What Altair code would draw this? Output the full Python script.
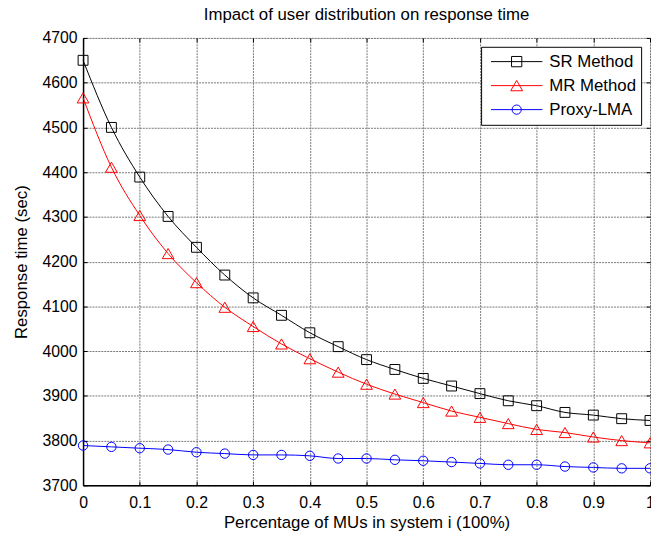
import altair as alt
import pandas as pd

# ---- data ----
x_vals = [0.0, 0.05, 0.1, 0.15, 0.2, 0.25, 0.3, 0.35, 0.4, 0.45, 0.5,
          0.55, 0.6, 0.65, 0.7, 0.75, 0.8, 0.85, 0.9, 0.95, 1.0]
sr_method = [4650, 4500, 4389, 4301, 4232, 4170, 4119, 4080, 4041, 4010, 3981,
             3959, 3939, 3922, 3905, 3889, 3878, 3863, 3857, 3849, 3845]
mr_method = [4566, 4411, 4303, 4218, 4153, 4098, 4055, 4016, 3983, 3953, 3926,
             3904, 3885, 3866, 3852, 3838, 3825, 3818, 3808, 3800, 3795]
proxy_lma = [3789, 3786, 3783, 3780, 3774, 3771, 3768, 3768, 3766, 3760, 3760,
             3757, 3755, 3752, 3749, 3746, 3746, 3742, 3740, 3738, 3738]

series_names = ["SR Method", "MR Method", "Proxy-LMA"]
series_colors = ["#000000", "#ff0000", "#0000ff"]
marker_shapes = ["square", "triangle-up", "circle"]
marker_sizes = [100, 140, 90]
# legend symbols: line with marker (unit coordinates, scaled by Vega)
legend_paths = [
    "M-1,0H1M-0.2,-0.2H0.2V0.2H-0.2Z",
    "M-1,0H1M0,-0.2L0.23,0.2H-0.23Z",
    "M-1,0H1M-0.18,0A0.18,0.18,0,1,1,0.18,0A0.18,0.18,0,1,1,-0.18,0Z",
]
x_ticks = [0, 0.1, 0.2, 0.3, 0.4, 0.5, 0.6, 0.7, 0.8, 0.9, 1]
y_ticks = [3700, 3800, 3900, 4000, 4100, 4200, 4300, 4400, 4500, 4600, 4700]

title_text = "Impact of user distribution on response time"
x_title = "Percentage of MUs in system i (100%)"
y_title = "Response time (sec)"

rows = []
for name, vals in zip(series_names, [sr_method, mr_method, proxy_lma]):
    for xv, yv in zip(x_vals, vals):
        rows.append({"x": xv, "y": yv, "series": name})
df = pd.DataFrame(rows)

FONT = "Liberation Sans"
W, H = 574, 453

xscale = alt.Scale(domain=[0, 1], nice=False, zero=False)
yscale = alt.Scale(domain=[3700, 4700], nice=False, zero=False)
cscale = alt.Scale(domain=series_names, range=series_colors)

grid_kw = dict(grid=True, gridColor="#777777", gridDash=[2, 1], gridWidth=1)
lab_kw = dict(labelFont=FONT, labelFontSize=16, labelColor="black",
              titleFont=FONT, titleFontSize=17, titleFontWeight="normal",
              titleColor="black", labelFlush=False, labelOverlap=False)

main_x = alt.Axis(orient="bottom", values=x_ticks, format="~g", title=x_title,
                  ticks=False, domain=True, domainColor="black", domainWidth=1.5,
                  labelPadding=9, titlePadding=5, **grid_kw, **lab_kw)
main_y = alt.Axis(orient="left", values=y_ticks, format="d", title=y_title,
                  ticks=False, domain=True, domainColor="black", domainWidth=1.5,
                  labelPadding=6, titlePadding=12, **grid_kw, **lab_kw)

def tick_axis(orient, values):
    return alt.Axis(orient=orient, values=values, offset=-4, ticks=True,
                    tickSize=4, tickColor="black", tickWidth=1, labels=False,
                    domain=False, grid=False, title=None)

base = alt.Chart(df)

axes_for = [
    (main_x, main_y),
    (tick_axis("top", x_ticks), tick_axis("right", y_ticks)),
    (tick_axis("bottom", x_ticks), tick_axis("left", y_ticks)),
]

line_layers = []
point_layers = []
for i, (name, col, shp, sz) in enumerate(zip(series_names, series_colors,
                                              marker_shapes, marker_sizes)):
    ax_x, ax_y = axes_for[i]
    sub = base.transform_filter(alt.datum.series == name)
    line_layers.append(
        sub.mark_line(strokeWidth=1, color=col, interpolate="monotone").encode(
            x=alt.X("x:Q", scale=xscale, axis=ax_x),
            y=alt.Y("y:Q", scale=yscale, axis=ax_y),
        )
    )
    point_layers.append(
        sub.mark_point(shape=shp, size=sz, filled=False, color=col,
                       strokeWidth=1, opacity=1).encode(
            x=alt.X("x:Q", scale=xscale, axis=None),
            y=alt.Y("y:Q", scale=yscale, axis=None),
        )
    )

legend = alt.Legend(title=None, orient="none", legendX=403, legendY=9,
                    strokeColor="black", fillColor="white", padding=5,
                    clipHeight=20, rowPadding=4.3, symbolSize=2704,
                    symbolStrokeWidth=1, symbolOpacity=1,
                    symbolFillColor="transparent", symbolOffset=4.5,
                    labelOffset=6.5, labelFont=FONT, labelFontSize=17,
                    labelColor="black", cornerRadius=0)

# legend-only layer: no rows drawn, scales carry the domains
legend_layer = base.transform_filter("datum.x > 5").mark_point(
    size=2704, filled=False, strokeWidth=1, opacity=1).encode(
    x=alt.X("x:Q", scale=xscale, axis=None),
    y=alt.Y("y:Q", scale=yscale, axis=None),
    color=alt.Color("series:N", scale=cscale, legend=legend),
    shape=alt.Shape("series:N",
                    scale=alt.Scale(domain=series_names, range=legend_paths),
                    legend=legend),
)

chart = (
    alt.layer(*line_layers, *point_layers, legend_layer)
    .resolve_axis(x="independent", y="independent")
    .properties(
        width=W, height=H,
        title=alt.TitleParams(title_text, font=FONT, fontSize=17,
                              fontWeight="normal", color="black",
                              anchor="middle", offset=6),
        autosize=alt.AutoSizeParams(type="none"),
        padding={"left": 76, "top": 27, "right": 1, "bottom": 48},
    )
    .configure_view(stroke="black", strokeWidth=1)
    .configure(background="white")
)

chart.save("out.html", embed_options={"renderer": "svg", "actions": False})
